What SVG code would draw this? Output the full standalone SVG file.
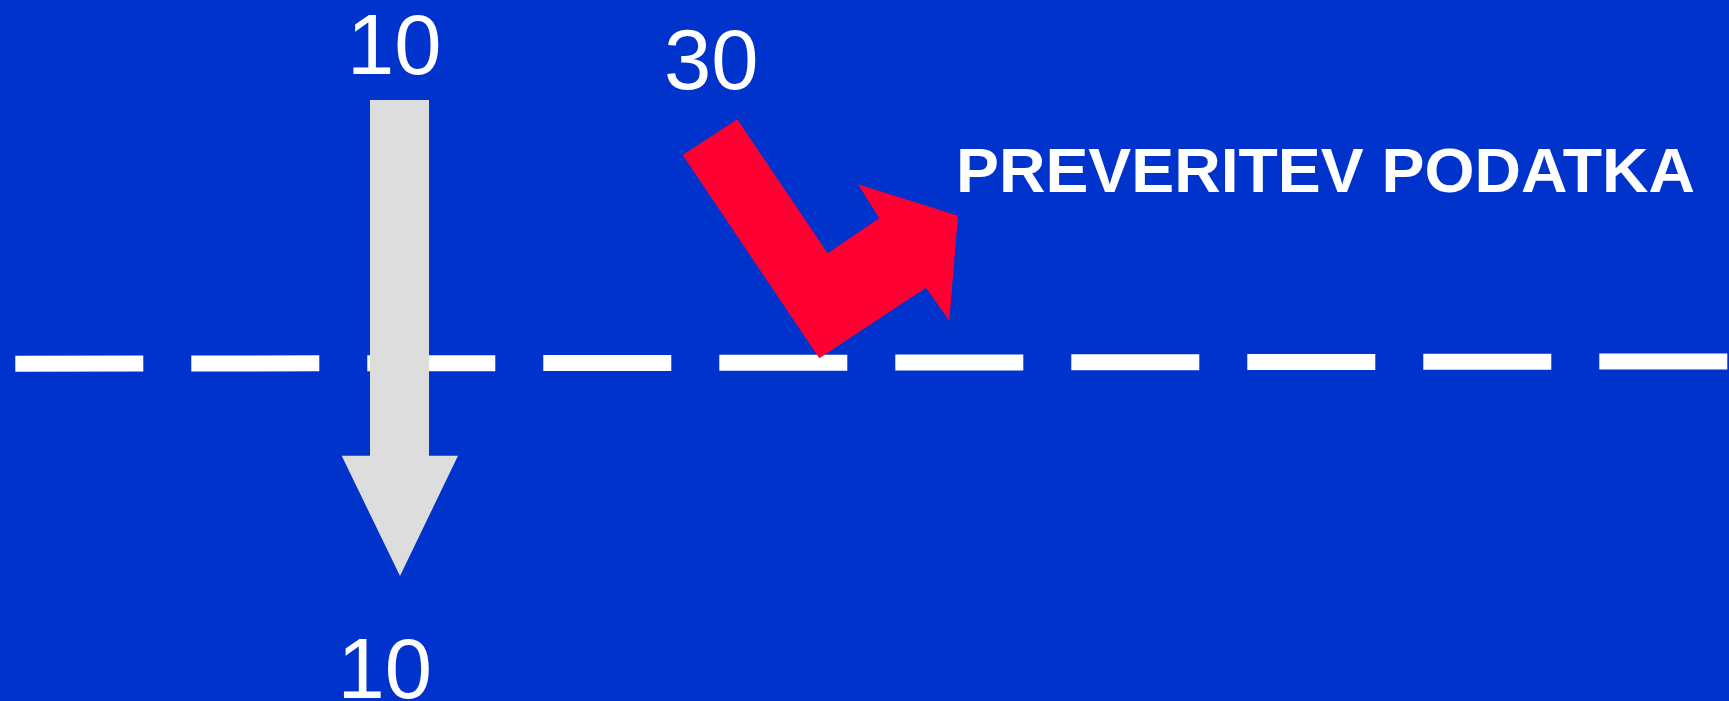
<svg xmlns="http://www.w3.org/2000/svg" width="1729" height="701" viewBox="0 0 1729 701">
<style>
.num{font-family:"Liberation Sans",Arial,sans-serif;font-size:85px;fill:#FFFFFF}
.lbl{font-family:"Liberation Sans",Arial,sans-serif;font-size:63px;font-weight:bold;fill:#FFFFFF}
</style>
<rect x="0" y="0" width="1729" height="701" fill="#0033CC"/>
<g id="connectors">
<line x1="15.3" y1="363.8" x2="1729" y2="361.4" stroke="#FFFFFF" stroke-width="16" stroke-dasharray="128 48"/>
</g>
<g id="gray-arrow">
<polygon points="370,100 429,100 429,455.7 458,455.7 400,576 341.7,455.7 370,455.7" fill="#DDDDDD"/>
</g>
<g id="red-arrow">
<polygon points="682.7,155 737.3,119.3 827.7,253.3 879.3,218.3 858,184.3 958,215.7 949.3,320.7 926,287.7 819.3,358.3" fill="#FF0033"/>
</g>
<g id="label-top-10"><text class="num" x="347" y="74">10</text></g>
<g id="label-bottom-10"><text class="num" x="337.5" y="698">10</text></g>
<g id="label-30"><text class="num" x="664" y="89">30</text></g>
<g id="label-preveritev"><text class="lbl" x="956" y="191.7" textLength="739" lengthAdjust="spacingAndGlyphs">PREVERITEV PODATKA</text></g>
</svg>
